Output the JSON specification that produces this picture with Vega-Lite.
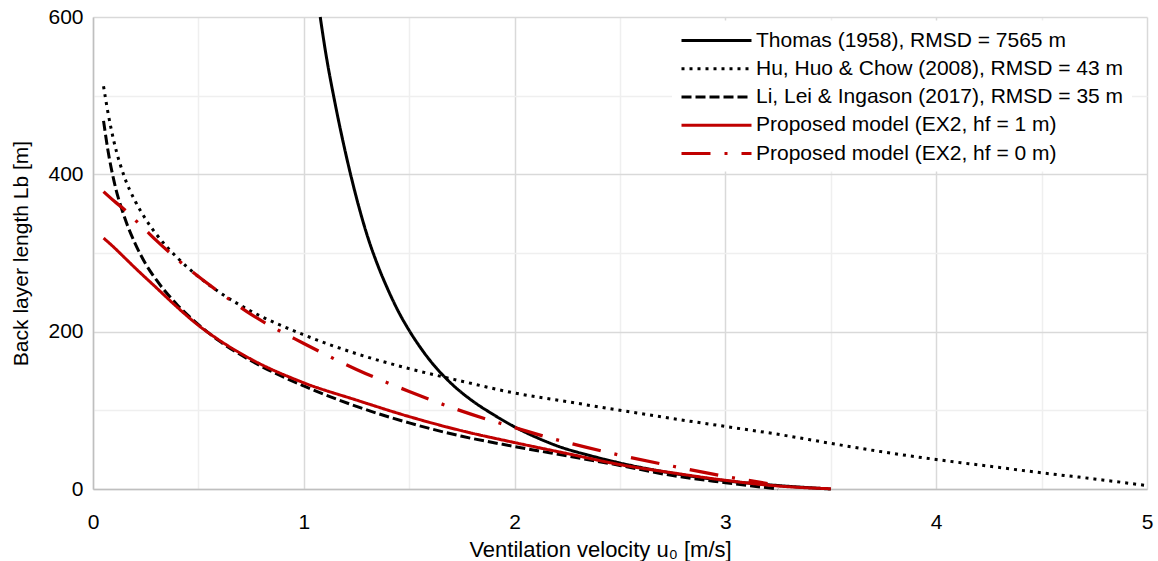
{
  "$schema": "https://vega.github.io/schema/vega-lite/v6.json",
  "width": 1054,
  "height": 472,
  "autosize": {"type": "none"},
  "padding": {"left": 93, "top": 17, "right": 11, "bottom": 72},
  "background": "white",
  "config": {
    "view": {"stroke": null},
    "font": "Liberation Sans"
  },
  "data": {
    "values": [
      {"model": "Thomas (1958), RMSD = 7565 m", "u": 1.078, "Lb": 600},
      {"model": "Thomas (1958), RMSD = 7565 m", "u": 1.1, "Lb": 561},
      {"model": "Thomas (1958), RMSD = 7565 m", "u": 1.15, "Lb": 488},
      {"model": "Thomas (1958), RMSD = 7565 m", "u": 1.2, "Lb": 425},
      {"model": "Thomas (1958), RMSD = 7565 m", "u": 1.25, "Lb": 370},
      {"model": "Thomas (1958), RMSD = 7565 m", "u": 1.3, "Lb": 323},
      {"model": "Thomas (1958), RMSD = 7565 m", "u": 1.35, "Lb": 285},
      {"model": "Thomas (1958), RMSD = 7565 m", "u": 1.4, "Lb": 253},
      {"model": "Thomas (1958), RMSD = 7565 m", "u": 1.45, "Lb": 225},
      {"model": "Thomas (1958), RMSD = 7565 m", "u": 1.5, "Lb": 201.5},
      {"model": "Thomas (1958), RMSD = 7565 m", "u": 1.55, "Lb": 181},
      {"model": "Thomas (1958), RMSD = 7565 m", "u": 1.6, "Lb": 163},
      {"model": "Thomas (1958), RMSD = 7565 m", "u": 1.7, "Lb": 134},
      {"model": "Thomas (1958), RMSD = 7565 m", "u": 1.8, "Lb": 112},
      {"model": "Thomas (1958), RMSD = 7565 m", "u": 1.9, "Lb": 94.5},
      {"model": "Thomas (1958), RMSD = 7565 m", "u": 2.0, "Lb": 79},
      {"model": "Thomas (1958), RMSD = 7565 m", "u": 2.1, "Lb": 66},
      {"model": "Thomas (1958), RMSD = 7565 m", "u": 2.2, "Lb": 55},
      {"model": "Thomas (1958), RMSD = 7565 m", "u": 2.35, "Lb": 43},
      {"model": "Thomas (1958), RMSD = 7565 m", "u": 2.5, "Lb": 33},
      {"model": "Thomas (1958), RMSD = 7565 m", "u": 2.75, "Lb": 20},
      {"model": "Thomas (1958), RMSD = 7565 m", "u": 3.0, "Lb": 10.5},
      {"model": "Thomas (1958), RMSD = 7565 m", "u": 3.25, "Lb": 4.4},
      {"model": "Thomas (1958), RMSD = 7565 m", "u": 3.5, "Lb": 0},

      {"model": "Hu, Huo & Chow (2008), RMSD = 43 m", "u": 0.05, "Lb": 512},
      {"model": "Hu, Huo & Chow (2008), RMSD = 43 m", "u": 0.07, "Lb": 480},
      {"model": "Hu, Huo & Chow (2008), RMSD = 43 m", "u": 0.1, "Lb": 441},
      {"model": "Hu, Huo & Chow (2008), RMSD = 43 m", "u": 0.15, "Lb": 396},
      {"model": "Hu, Huo & Chow (2008), RMSD = 43 m", "u": 0.2, "Lb": 366},
      {"model": "Hu, Huo & Chow (2008), RMSD = 43 m", "u": 0.25, "Lb": 343},
      {"model": "Hu, Huo & Chow (2008), RMSD = 43 m", "u": 0.3, "Lb": 324},
      {"model": "Hu, Huo & Chow (2008), RMSD = 43 m", "u": 0.4, "Lb": 294},
      {"model": "Hu, Huo & Chow (2008), RMSD = 43 m", "u": 0.5, "Lb": 270},
      {"model": "Hu, Huo & Chow (2008), RMSD = 43 m", "u": 0.6, "Lb": 250},
      {"model": "Hu, Huo & Chow (2008), RMSD = 43 m", "u": 0.75, "Lb": 226},
      {"model": "Hu, Huo & Chow (2008), RMSD = 43 m", "u": 1.0, "Lb": 196},
      {"model": "Hu, Huo & Chow (2008), RMSD = 43 m", "u": 1.25, "Lb": 172},
      {"model": "Hu, Huo & Chow (2008), RMSD = 43 m", "u": 1.5, "Lb": 153},
      {"model": "Hu, Huo & Chow (2008), RMSD = 43 m", "u": 1.75, "Lb": 137},
      {"model": "Hu, Huo & Chow (2008), RMSD = 43 m", "u": 2.0, "Lb": 122},
      {"model": "Hu, Huo & Chow (2008), RMSD = 43 m", "u": 2.25, "Lb": 111},
      {"model": "Hu, Huo & Chow (2008), RMSD = 43 m", "u": 2.5, "Lb": 100},
      {"model": "Hu, Huo & Chow (2008), RMSD = 43 m", "u": 2.75, "Lb": 89.5},
      {"model": "Hu, Huo & Chow (2008), RMSD = 43 m", "u": 3.0, "Lb": 79.5},
      {"model": "Hu, Huo & Chow (2008), RMSD = 43 m", "u": 3.25, "Lb": 69.5},
      {"model": "Hu, Huo & Chow (2008), RMSD = 43 m", "u": 3.5, "Lb": 58},
      {"model": "Hu, Huo & Chow (2008), RMSD = 43 m", "u": 3.75, "Lb": 47},
      {"model": "Hu, Huo & Chow (2008), RMSD = 43 m", "u": 4.0, "Lb": 37.5},
      {"model": "Hu, Huo & Chow (2008), RMSD = 43 m", "u": 4.25, "Lb": 29},
      {"model": "Hu, Huo & Chow (2008), RMSD = 43 m", "u": 4.5, "Lb": 20.6},
      {"model": "Hu, Huo & Chow (2008), RMSD = 43 m", "u": 4.75, "Lb": 12.8},
      {"model": "Hu, Huo & Chow (2008), RMSD = 43 m", "u": 5.0, "Lb": 4.4},

      {"model": "Li, Lei & Ingason (2017), RMSD = 35 m", "u": 0.05, "Lb": 468},
      {"model": "Li, Lei & Ingason (2017), RMSD = 35 m", "u": 0.07, "Lb": 432},
      {"model": "Li, Lei & Ingason (2017), RMSD = 35 m", "u": 0.1, "Lb": 391},
      {"model": "Li, Lei & Ingason (2017), RMSD = 35 m", "u": 0.15, "Lb": 345},
      {"model": "Li, Lei & Ingason (2017), RMSD = 35 m", "u": 0.2, "Lb": 312},
      {"model": "Li, Lei & Ingason (2017), RMSD = 35 m", "u": 0.25, "Lb": 286},
      {"model": "Li, Lei & Ingason (2017), RMSD = 35 m", "u": 0.3, "Lb": 266},
      {"model": "Li, Lei & Ingason (2017), RMSD = 35 m", "u": 0.4, "Lb": 234},
      {"model": "Li, Lei & Ingason (2017), RMSD = 35 m", "u": 0.5, "Lb": 209},
      {"model": "Li, Lei & Ingason (2017), RMSD = 35 m", "u": 0.6, "Lb": 188},
      {"model": "Li, Lei & Ingason (2017), RMSD = 35 m", "u": 0.75, "Lb": 163},
      {"model": "Li, Lei & Ingason (2017), RMSD = 35 m", "u": 1.0, "Lb": 131},
      {"model": "Li, Lei & Ingason (2017), RMSD = 35 m", "u": 1.25, "Lb": 105},
      {"model": "Li, Lei & Ingason (2017), RMSD = 35 m", "u": 1.5, "Lb": 84},
      {"model": "Li, Lei & Ingason (2017), RMSD = 35 m", "u": 1.75, "Lb": 67},
      {"model": "Li, Lei & Ingason (2017), RMSD = 35 m", "u": 2.0, "Lb": 54},
      {"model": "Li, Lei & Ingason (2017), RMSD = 35 m", "u": 2.25, "Lb": 42},
      {"model": "Li, Lei & Ingason (2017), RMSD = 35 m", "u": 2.5, "Lb": 30},
      {"model": "Li, Lei & Ingason (2017), RMSD = 35 m", "u": 2.75, "Lb": 17},
      {"model": "Li, Lei & Ingason (2017), RMSD = 35 m", "u": 3.0, "Lb": 8},
      {"model": "Li, Lei & Ingason (2017), RMSD = 35 m", "u": 3.25, "Lb": 0},

      {"model": "Proposed model (EX2, hf = 1 m)", "u": 0.05, "Lb": 319},
      {"model": "Proposed model (EX2, hf = 1 m)", "u": 0.1, "Lb": 307},
      {"model": "Proposed model (EX2, hf = 1 m)", "u": 0.15, "Lb": 294},
      {"model": "Proposed model (EX2, hf = 1 m)", "u": 0.2, "Lb": 281},
      {"model": "Proposed model (EX2, hf = 1 m)", "u": 0.3, "Lb": 256},
      {"model": "Proposed model (EX2, hf = 1 m)", "u": 0.4, "Lb": 231},
      {"model": "Proposed model (EX2, hf = 1 m)", "u": 0.5, "Lb": 208},
      {"model": "Proposed model (EX2, hf = 1 m)", "u": 0.6, "Lb": 189},
      {"model": "Proposed model (EX2, hf = 1 m)", "u": 0.75, "Lb": 165},
      {"model": "Proposed model (EX2, hf = 1 m)", "u": 1.0, "Lb": 135},
      {"model": "Proposed model (EX2, hf = 1 m)", "u": 1.25, "Lb": 113},
      {"model": "Proposed model (EX2, hf = 1 m)", "u": 1.5, "Lb": 92},
      {"model": "Proposed model (EX2, hf = 1 m)", "u": 1.75, "Lb": 74},
      {"model": "Proposed model (EX2, hf = 1 m)", "u": 2.0, "Lb": 59},
      {"model": "Proposed model (EX2, hf = 1 m)", "u": 2.25, "Lb": 45},
      {"model": "Proposed model (EX2, hf = 1 m)", "u": 2.5, "Lb": 31},
      {"model": "Proposed model (EX2, hf = 1 m)", "u": 2.75, "Lb": 20.5},
      {"model": "Proposed model (EX2, hf = 1 m)", "u": 3.0, "Lb": 11},
      {"model": "Proposed model (EX2, hf = 1 m)", "u": 3.25, "Lb": 3.8},
      {"model": "Proposed model (EX2, hf = 1 m)", "u": 3.5, "Lb": 0.3},

      {"model": "Proposed model (EX2, hf = 0 m)", "u": 0.05, "Lb": 378},
      {"model": "Proposed model (EX2, hf = 0 m)", "u": 0.1, "Lb": 366},
      {"model": "Proposed model (EX2, hf = 0 m)", "u": 0.15, "Lb": 355},
      {"model": "Proposed model (EX2, hf = 0 m)", "u": 0.2, "Lb": 342},
      {"model": "Proposed model (EX2, hf = 0 m)", "u": 0.25, "Lb": 329},
      {"model": "Proposed model (EX2, hf = 0 m)", "u": 0.3, "Lb": 316},
      {"model": "Proposed model (EX2, hf = 0 m)", "u": 0.4, "Lb": 292},
      {"model": "Proposed model (EX2, hf = 0 m)", "u": 0.5, "Lb": 270},
      {"model": "Proposed model (EX2, hf = 0 m)", "u": 0.6, "Lb": 250},
      {"model": "Proposed model (EX2, hf = 0 m)", "u": 0.75, "Lb": 222},
      {"model": "Proposed model (EX2, hf = 0 m)", "u": 1.0, "Lb": 185},
      {"model": "Proposed model (EX2, hf = 0 m)", "u": 1.25, "Lb": 152},
      {"model": "Proposed model (EX2, hf = 0 m)", "u": 1.5, "Lb": 124},
      {"model": "Proposed model (EX2, hf = 0 m)", "u": 1.75, "Lb": 99},
      {"model": "Proposed model (EX2, hf = 0 m)", "u": 2.0, "Lb": 78},
      {"model": "Proposed model (EX2, hf = 0 m)", "u": 2.25, "Lb": 59},
      {"model": "Proposed model (EX2, hf = 0 m)", "u": 2.5, "Lb": 43},
      {"model": "Proposed model (EX2, hf = 0 m)", "u": 2.75, "Lb": 29},
      {"model": "Proposed model (EX2, hf = 0 m)", "u": 3.0, "Lb": 16},
      {"model": "Proposed model (EX2, hf = 0 m)", "u": 3.2, "Lb": 7}
    ]
  },
  "encoding": {
    "x": {
      "field": "u",
      "type": "quantitative",
      "scale": {"domain": [0, 5], "nice": false, "zero": false},
      "axis": {
        "values": [0, 0.5, 1, 1.5, 2, 2.5, 3, 3.5, 4, 4.5, 5],
        "format": "~g",
        "labelExpr": "datum.value % 1 === 0 ? datum.label : ''",
        "labelOverlap": false,
        "labelFlush": false,
        "labelFont": "Liberation Sans",
        "labelFontSize": 21,
        "labelColor": "#000000",
        "labelPadding": 22,
        "ticks": false,
        "tickSize": 0,
        "domainColor": "#bfbfbf",
        "domainWidth": 1.5,
        "gridColor": {"condition": {"test": "datum.value % 1 === 0", "value": "#d9d9d9"}, "value": "#efefef"},
        "gridWidth": 1.5,
        "title": "Ventilation velocity u₀ [m/s]",
        "titleFont": "Liberation Sans",
        "titleFontSize": 22,
        "titleFontWeight": "normal",
        "titleColor": "#000000",
        "titleX": 507,
        "titleY": 67,
        "titleAlign": "center",
        "titleBaseline": "alphabetic"
      }
    },
    "y": {
      "field": "Lb",
      "type": "quantitative",
      "scale": {"domain": [0, 600], "nice": false},
      "axis": {
        "values": [0, 100, 200, 300, 400, 500, 600],
        "format": "d",
        "labelExpr": "datum.value % 200 === 0 ? datum.label : ''",
        "labelOverlap": false,
        "labelFlush": false,
        "labelFont": "Liberation Sans",
        "labelFontSize": 21,
        "labelColor": "#000000",
        "labelPadding": 10,
        "ticks": false,
        "tickSize": 0,
        "domainColor": "#bfbfbf",
        "domainWidth": 1.5,
        "gridColor": {"condition": {"test": "datum.value % 200 === 0", "value": "#d9d9d9"}, "value": "#efefef"},
        "gridWidth": 1.5,
        "title": "Back layer length Lb [m]",
        "titleFont": "Liberation Sans",
        "titleFontSize": 21,
        "titleFontWeight": "normal",
        "titleColor": "#000000",
        "titlePadding": 16
      }
    },
    "color": {
      "field": "model",
      "type": "nominal",
      "scale": {
        "domain": [
          "Thomas (1958), RMSD = 7565 m",
          "Hu, Huo & Chow (2008), RMSD = 43 m",
          "Li, Lei & Ingason (2017), RMSD = 35 m",
          "Proposed model (EX2, hf = 1 m)",
          "Proposed model (EX2, hf = 0 m)"
        ],
        "range": ["#000000", "#000000", "#000000", "#c00000", "#c00000"]
      },
      "legend": {
        "title": null,
        "orient": "none",
        "legendX": 579,
        "legendY": 3.5,
        "fillColor": "#ffffff",
        "padding": 8,
        "symbolType": "M-3.3333,0L3.3333,0",
        "symbolSize": 441,
        "symbolOffset": 24.5,
        "symbolStrokeWidth": 3,
        "labelFont": "Liberation Sans",
        "labelFontSize": 21,
        "labelColor": "#000000",
        "labelLimit": 500,
        "labelOffset": 27.5,
        "rowPadding": 6.25
      }
    },
    "strokeDash": {
      "field": "model",
      "type": "nominal",
      "scale": {
        "domain": [
          "Thomas (1958), RMSD = 7565 m",
          "Hu, Huo & Chow (2008), RMSD = 43 m",
          "Li, Lei & Ingason (2017), RMSD = 35 m",
          "Proposed model (EX2, hf = 1 m)",
          "Proposed model (EX2, hf = 0 m)"
        ],
        "range": [[1, 0], [3, 5], [10, 4], [1, 0], [29, 14, 3, 14]]
      },
      "legend": {
        "title": null,
        "orient": "none",
        "legendX": 579,
        "legendY": 3.5,
        "fillColor": "#ffffff",
        "padding": 8,
        "symbolType": "M-3.3333,0L3.3333,0",
        "symbolSize": 441,
        "symbolOffset": 24.5,
        "symbolStrokeWidth": 3,
        "labelFont": "Liberation Sans",
        "labelFontSize": 21,
        "labelColor": "#000000",
        "labelLimit": 500,
        "labelOffset": 27.5,
        "rowPadding": 6.25
      }
    }
  },
  "layer": [
    {
      "transform": [{"filter": "datum.model === 'Thomas (1958), RMSD = 7565 m'"}],
      "mark": {"type": "line", "strokeWidth": 3, "interpolate": "monotone"}
    },
    {
      "transform": [{"filter": "datum.model === 'Hu, Huo & Chow (2008), RMSD = 43 m'"}],
      "mark": {"type": "line", "strokeWidth": 3, "interpolate": "monotone"}
    },
    {
      "transform": [{"filter": "datum.model === 'Li, Lei & Ingason (2017), RMSD = 35 m'"}],
      "mark": {"type": "line", "strokeWidth": 3, "interpolate": "monotone"}
    },
    {
      "transform": [{"filter": "datum.model === 'Proposed model (EX2, hf = 1 m)'"}],
      "mark": {"type": "line", "strokeWidth": 3, "interpolate": "monotone"}
    },
    {
      "transform": [{"filter": "datum.model === 'Proposed model (EX2, hf = 0 m)'"}],
      "mark": {"type": "line", "strokeWidth": 3.25, "interpolate": "monotone"}
    }
  ]
}
